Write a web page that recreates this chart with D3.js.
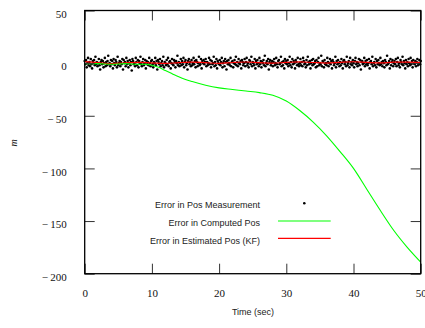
<!DOCTYPE html>
<html><head><meta charset="utf-8">
<script src="https://cdn.jsdelivr.net/npm/d3@7"></script>
<style>body{margin:0;background:#fff;}svg{display:block;}</style>
</head><body>
<svg id="c" width="425" height="328"></svg>
<script>
// ---- data ----
const xTicks = [0, 10, 20, 30, 40, 50];
const yTicks = [50, 0, -50, -100, -150, -200];
const measStep = 0.1; // sampling interval (sec)
const measErr = [
2,-1,3,-4,0,5,-2,1,-3,4,-1,-5,2,0,3,-2,6,-1,1,-3,
0,4,-2,-6,1,3,-1,2,-4,0,5,-3,1,-2,2,7,-1,0,-3,3,
-1,2,-5,4,0,-2,3,1,-4,6,-2,0,2,-3,1,-1,4,-6,3,0,
1,-3,5,-1,2,-4,0,3,-2,1,-7,4,2,-1,0,-3,5,1,-2,3,
-4,2,0,6,-1,-3,1,4,-2,0,3,-5,2,-1,1,-2,5,0,-3,2,
3,-1,-4,1,0,5,-2,2,-6,3,1,-1,4,-3,0,2,-2,6,-4,1,
0,-2,3,-1,5,-3,1,2,-5,0,4,-1,-2,3,1,-4,2,0,7,-2,
1,-3,0,4,-2,2,-1,5,-4,1,3,-2,0,-6,2,4,-1,1,-3,3,
-2,0,5,-1,2,-4,3,1,-3,0,6,-2,-1,4,-5,2,0,3,-1,1,
4,-3,1,-2,0,5,-1,3,-4,2,-1,0,6,-3,1,-2,4,-5,2,0,
-1,3,-2,1,5,-4,0,2,-3,4,1,-6,2,-1,3,0,-2,5,-3,1,
2,-4,0,3,-1,6,-2,1,-3,4,0,-1,2,-5,3,1,-2,0,4,-3,
1,5,-2,0,-4,3,2,-1,6,-3,1,0,-2,4,-5,2,-1,3,0,-3,
5,-1,2,-4,1,0,3,-2,7,-3,0,2,-1,4,-6,1,3,-2,0,2,
-3,1,4,-2,0,5,-1,-4,2,3,-1,0,6,-3,1,-2,2,-5,4,0,
2,-1,3,-3,0,6,-2,1,-4,4,-1,2,0,-5,3,1,-2,5,-1,-3,
0,4,-2,1,-3,5,2,-1,0,-4,3,-2,6,1,-1,2,-5,0,3,-2,
4,-1,0,2,-4,3,-3,1,5,-2,0,-1,7,-3,2,1,-4,3,-1,0,
-2,5,1,-3,0,4,-1,2,-5,3,1,-2,0,6,-4,2,-1,3,0,-3,
1,-2,4,0,-5,2,3,-1,1,-3,6,-2,0,2,-4,5,-1,1,-2,3,
0,-4,2,5,-1,1,-3,0,4,-2,3,-6,1,2,-1,0,5,-3,2,-1,
3,-2,0,4,-5,1,2,-1,6,-3,0,1,-2,4,-4,2,-1,3,0,-2,
5,-1,1,-3,2,0,-4,3,1,-2,7,-1,0,2,-5,4,-2,1,3,-3,
0,2,-1,4,-3,1,5,-2,0,-4,3,1,-1,6,-2,2,0,-5,3,-1,
1,-3,4,0,-2,5,-1,2,-4,3,0,-1,2,-3,1,4,-2,0,3,-1,2
];
const compT = [0,2,4,6,8,9,10,11,12,13,14,15,16,18,20,22,24,26,28,30,32,34,36,38,40,42,44,46,48,50];
const compErr = [-0.5,-0.5,-1,-0.5,-1,-1,-2,-4,-7,-10,-13,-15.5,-17.5,-21,-23.5,-25,-26.5,-28,-30.5,-36,-45,-56,-69,-84,-100,-120,-140,-159,-175,-189];
const estT = [0,2,4,6,8,10,12,14,16,18,20,22,24,26,28,30,32,34,36,38,40,42,44,46,48,50];
const estErr = [1.5,0.5,-0.5,0.3,0.8,0.2,-0.3,0.5,1.0,0.4,-0.2,0.6,1.1,0.5,0.0,0.7,1.2,0.6,0.1,0.8,1.3,0.7,0.2,0.9,1.0,0.6];
const legendLabels = ["Error in Pos Measurement", "Error in Computed Pos", "Error in Estimated Pos (KF)"];

// ---- chart ----
const svg = d3.select("#c");
const L = 84.7, R = 420.7, T = 10.5, B = 273.7;
const x = d3.scaleLinear().domain([0, 50]).range([L, R]);
const y = d3.scaleLinear().domain([50, -200]).range([T, B]);
const serif = "'Liberation Serif', 'DejaVu Serif', serif";
const sans = "'Liberation Sans', Arial, sans-serif";

const g = svg.append("g");
// measurement dots
g.append("g").selectAll("circle").data(measErr).join("circle")
  .attr("cx", (d, i) => x(i * measStep)).attr("cy", d => y(d))
  .attr("r", 1.3).attr("fill", "#000");
// estimated (red)
g.append("path").datum(estT.map((t, i) => [t, estErr[i]]))
  .attr("fill", "none").attr("stroke", "#ff0000").attr("stroke-width", 1.2)
  .attr("d", d3.line().x(d => x(d[0])).y(d => y(d[1])).curve(d3.curveMonotoneX));
// computed (green)
g.append("path").datum(compT.map((t, i) => [t, compErr[i]]))
  .attr("fill", "none").attr("stroke", "#00ff00").attr("stroke-width", 1.1)
  .attr("d", d3.line().x(d => x(d[0])).y(d => y(d[1])).curve(d3.curveMonotoneX));

// axes with inward ticks
const fmt = d => d < 0 ? "\u2212\u2009" + Math.abs(d) : String(d);
const axL = svg.append("g").attr("transform", `translate(${L},0)`)
  .call(d3.axisLeft(y).tickValues(yTicks).tickSize(-10).tickPadding(18).tickFormat(fmt));
const axR = svg.append("g").attr("transform", `translate(${R},0)`)
  .call(d3.axisRight(y).tickValues(yTicks).tickSize(-10).tickFormat(""));
const axB = svg.append("g").attr("transform", `translate(0,${B})`)
  .call(d3.axisBottom(x).tickValues(xTicks).tickSize(-10).tickPadding(16).tickFormat(d => d));
const axT = svg.append("g").attr("transform", `translate(0,${T})`)
  .call(d3.axisTop(x).tickValues(xTicks).tickSize(-10).tickFormat(""));
[axL, axR, axB, axT].forEach(a => {
  a.select(".domain").remove();
  a.selectAll(".tick line").attr("stroke", "#333").attr("stroke-width", 1);
  a.selectAll("text").attr("font-family", serif).attr("font-size", 11).attr("fill", "#111");
});
axL.selectAll("text").attr("dy", "0.62em");
// frame
svg.append("rect").attr("x", L).attr("y", T).attr("width", R - L).attr("height", B - T)
  .attr("fill", "none").attr("stroke", "#000").attr("stroke-width", 1.3);

// axis titles
svg.append("text").attr("x", 253).attr("y", 315).attr("text-anchor", "middle")
  .attr("font-family", sans).attr("font-size", 9).attr("fill", "#222").text("Time (sec)");
svg.append("text").attr("transform", "translate(17,143) rotate(-90)").attr("text-anchor", "middle")
  .attr("font-family", serif).attr("font-style", "italic").attr("font-size", 10).attr("fill", "#222").text("m");

// legend
const leg = svg.append("g");
const rowsY = [205, 223, 240.5];
legendLabels.forEach((lab, i) => {
  leg.append("text").attr("x", 260).attr("y", rowsY[i] + 3).attr("text-anchor", "end")
    .attr("font-family", sans).attr("font-size", 9).attr("fill", "#222").text(lab);
});
leg.append("circle").attr("cx", 304.3).attr("cy", 203.3).attr("r", 1.3).attr("fill", "#000");
leg.append("line").attr("x1", 278).attr("x2", 330.7).attr("y1", 221).attr("y2", 221)
  .attr("stroke", "#00ff00").attr("stroke-width", 1.1);
leg.append("line").attr("x1", 278).attr("x2", 330.7).attr("y1", 238.3).attr("y2", 238.3)
  .attr("stroke", "#ff0000").attr("stroke-width", 1.2);
</script>
</body></html>
